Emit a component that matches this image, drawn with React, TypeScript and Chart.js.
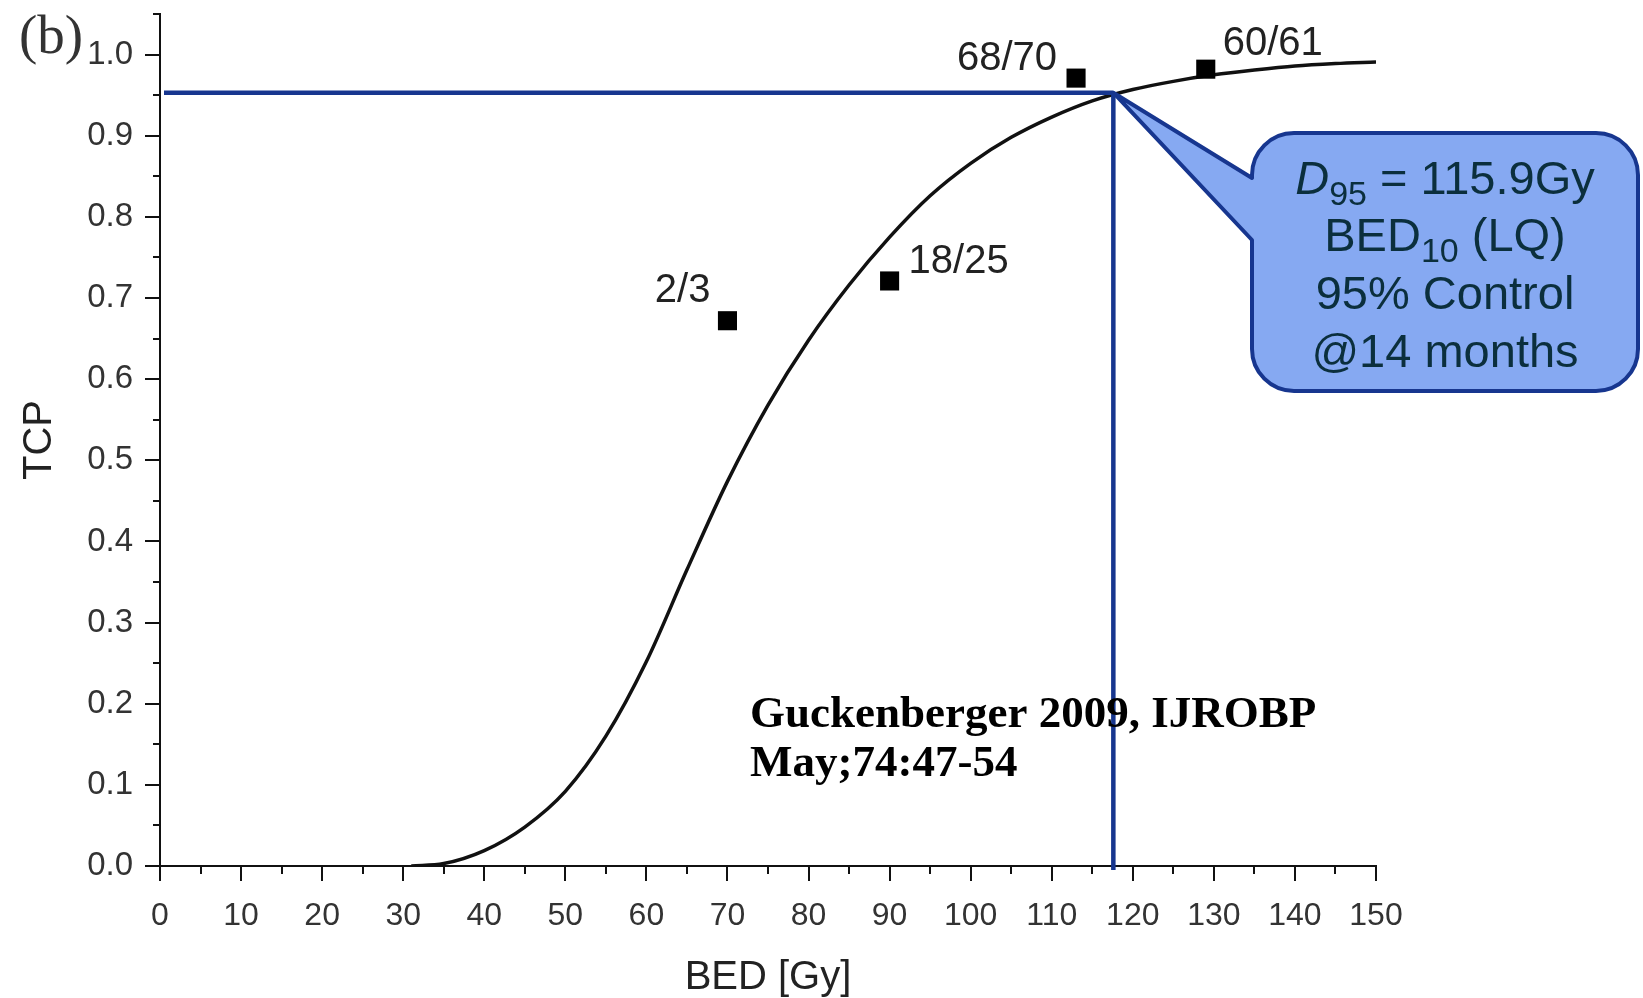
import React, { useEffect, useRef } from 'react';
import { Chart, registerables } from 'chart.js';

Chart.register(...registerables);

// ---- data ----
const curveDose = [31, 35, 40, 45, 50, 55, 60, 65, 70, 75, 80, 85, 90, 95, 100, 105, 110, 115, 120, 125, 130, 135, 140, 145, 150];
const curveTCP = [0, 0.003, 0.019, 0.048, 0.092, 0.16, 0.252, 0.365, 0.474, 0.568, 0.648, 0.716, 0.775, 0.826, 0.866, 0.898, 0.923, 0.943, 0.957, 0.967, 0.975, 0.981, 0.986, 0.989, 0.991];

const obsDose = [70, 90, 113, 129];
const obsTCP = [0.672, 0.721, 0.971, 0.982];
const obsLabels = ['2/3', '18/25', '68/70', '60/61'];

const d95Dose = 117.6;
const d95TCP = 0.953;

const xTickValues = [0, 10, 20, 30, 40, 50, 60, 70, 80, 90, 100, 110, 120, 130, 140, 150];
const xTickLabels = ['0', '10', '20', '30', '40', '50', '60', '70', '80', '90', '100', '110', '120', '130', '140', '150'];
const xMinorTicks = [5, 15, 25, 35, 45, 55, 65, 75, 85, 95, 105, 115, 125, 135, 145];
const yTickValues = [0, 0.1, 0.2, 0.3, 0.4, 0.5, 0.6, 0.7, 0.8, 0.9, 1.0];
const yTickLabels = ['0.0', '0.1', '0.2', '0.3', '0.4', '0.5', '0.6', '0.7', '0.8', '0.9', '1.0'];
const yMinorTicks = [0.05, 0.15, 0.25, 0.35, 0.45, 0.55, 0.65, 0.75, 0.85, 0.95, 1.05];

const xTitle = 'BED [Gy]';
const yTitle = 'TCP';
const panelLabel = '(b)';
const referenceLines = ['Guckenberger 2009, IJROBP', 'May;74:47-54'];
const calloutLines = [
  [{ t: 'D', italic: true }, { t: '95', sub: true }, { t: ' = 115.9Gy' }],
  [{ t: 'BED' }, { t: '10', sub: true }, { t: ' (LQ)' }],
  [{ t: '95% Control' }],
  [{ t: '@14 months' }],
];

// ---- styles / positions ----
const SANS = "'Liberation Sans', Arial, sans-serif";
const SERIF = "'Liberation Serif', 'Times New Roman', serif";
const NAVY = '#17368f';
const labelOffsets = [
  { dx: -17, dy: -19, align: 'right' },
  { dx: 19, dy: -8, align: 'left' },
  { dx: -19, dy: -8, align: 'right' },
  { dx: 17, dy: -14, align: 'left' },
];

const annotPlugin = {
  id: 'annot',
  afterDraw(chart: any) {
    const { ctx, chartArea, scales } = chart;
    const xs = scales.x;
    const ys = scales.y;
    ctx.save();

    // minor ticks
    ctx.strokeStyle = '#111';
    ctx.lineWidth = 2;
    ctx.beginPath();
    xMinorTicks.forEach((v) => {
      const px = Math.round(xs.getPixelForValue(v));
      ctx.moveTo(px, chartArea.bottom);
      ctx.lineTo(px, chartArea.bottom + 8);
    });
    yMinorTicks.forEach((v) => {
      const py = Math.round(ys.getPixelForValue(v));
      ctx.moveTo(chartArea.left - 7, py);
      ctx.lineTo(chartArea.left, py);
    });
    ctx.stroke();

    // D95 guide lines
    const tx = xs.getPixelForValue(d95Dose);
    const ty = ys.getPixelForValue(d95TCP);
    ctx.strokeStyle = NAVY;
    ctx.lineWidth = 4.5;
    ctx.beginPath();
    ctx.moveTo(chartArea.left + 4, ty);
    ctx.lineTo(tx, ty);
    ctx.moveTo(tx, ty);
    ctx.lineTo(tx, chartArea.bottom + 4);
    ctx.stroke();

    // callout
    const L = 1252, T = 133, R = 1638, B = 391, r = 42;
    const a1 = 178, a2 = 240;
    ctx.beginPath();
    ctx.moveTo(L, a1);
    ctx.lineTo(L, T + r);
    ctx.arcTo(L, T, L + r, T, r);
    ctx.lineTo(R - r, T);
    ctx.arcTo(R, T, R, T + r, r);
    ctx.lineTo(R, B - r);
    ctx.arcTo(R, B, R - r, B, r);
    ctx.lineTo(L + r, B);
    ctx.arcTo(L, B, L, B - r, r);
    ctx.lineTo(L, a2);
    ctx.lineTo(tx, ty);
    ctx.closePath();
    ctx.fillStyle = '#86a9f2';
    ctx.fill();
    ctx.lineJoin = 'round';
    ctx.strokeStyle = NAVY;
    ctx.lineWidth = 4;
    ctx.stroke();

    const baselines = [194, 251, 309, 367];
    const cx = (L + R) / 2;
    ctx.fillStyle = '#0b2f3d';
    ctx.textBaseline = 'alphabetic';
    ctx.textAlign = 'left';
    calloutLines.forEach((segs: any[], i) => {
      const fonts = segs.map((s) => (s.sub ? `34px ${SANS}` : s.italic ? `italic 47px ${SANS}` : `47px ${SANS}`));
      let total = 0;
      const widths = segs.map((s, j) => {
        ctx.font = fonts[j];
        const w = ctx.measureText(s.t).width;
        total += w;
        return w;
      });
      let x = cx - total / 2;
      segs.forEach((s, j) => {
        ctx.font = fonts[j];
        ctx.fillText(s.t, x, baselines[i] + (s.sub ? 11 : 0));
        x += widths[j];
      });
    });

    // point labels
    const meta = chart.getDatasetMeta(1);
    ctx.fillStyle = '#222';
    ctx.font = `40px ${SANS}`;
    obsLabels.forEach((lab, i) => {
      const el = meta.data[i];
      const o = labelOffsets[i];
      ctx.textAlign = o.align;
      ctx.fillText(lab, el.x + o.dx, el.y + o.dy);
    });

    // reference text
    ctx.fillStyle = '#000';
    ctx.textAlign = 'left';
    ctx.font = `bold 45px ${SERIF}`;
    ctx.fillText(referenceLines[0], 750, 727);
    ctx.fillText(referenceLines[1], 750, 776);

    // panel label
    ctx.fillStyle = '#333';
    ctx.font = `55px ${SERIF}`;
    ctx.fillText(panelLabel, 19, 53);

    ctx.restore();
  },
};

export default function App() {
  const ref = useRef<HTMLCanvasElement | null>(null);
  useEffect(() => {
    if (!ref.current) return;
    Chart.defaults.font.family = SANS;
    const chart = new Chart(ref.current, {
      type: 'scatter',
      data: {
        datasets: [
          {
            type: 'line',
            data: curveDose.map((x, i) => ({ x, y: curveTCP[i] })),
            borderColor: '#111',
            borderWidth: 3.5,
            pointRadius: 0,
            cubicInterpolationMode: 'monotone',
            fill: false,
            order: 2,
          } as any,
          {
            type: 'scatter',
            data: obsDose.map((x, i) => ({ x, y: obsTCP[i] })),
            pointStyle: 'rect',
            pointRadius: 13.5,
            backgroundColor: '#000',
            borderColor: '#000',
            borderWidth: 0,
            order: 1,
          } as any,
        ],
      },
      options: {
        animation: false,
        responsive: false,
        devicePixelRatio: 1,
        layout: { padding: { left: 0, right: 267, top: 14, bottom: 0 } },
        plugins: { legend: { display: false }, tooltip: { enabled: false } },
        scales: {
          x: {
            type: 'linear',
            min: 0,
            max: 150,
            afterBuildTicks: (s: any) => {
              s.ticks = xTickValues.map((v) => ({ value: v }));
            },
            afterFit: (s: any) => {
              s.height = 132;
              s.paddingLeft = 0;
              s.paddingRight = 0;
            },
            ticks: {
              callback: (_v: any, i: number) => xTickLabels[i],
              font: { size: 32 },
              color: '#333',
              padding: 16,
              maxRotation: 0,
              autoSkip: false,
            },
            grid: { display: true, drawOnChartArea: false, drawTicks: true, tickLength: 15, color: '#111', lineWidth: 2 },
            border: { display: true, color: '#111', width: 2 },
            title: { display: true, text: xTitle, color: '#222', font: { size: 40, lineHeight: 1.0 }, padding: { top: 0, bottom: 0 } },
          },
          y: {
            type: 'linear',
            min: 0,
            max: 1.05,
            afterBuildTicks: (s: any) => {
              s.ticks = yTickValues.map((v) => ({ value: v }));
            },
            afterFit: (s: any) => {
              s.width = 160;
              s.paddingTop = 0;
              s.paddingBottom = 0;
            },
            ticks: {
              callback: (_v: any, i: number) => yTickLabels[i],
              font: { size: 33 },
              color: '#333',
              padding: 12,
              autoSkip: false,
            },
            grid: { display: true, drawOnChartArea: false, drawTicks: true, tickLength: 15, color: '#111', lineWidth: 2 },
            border: { display: true, color: '#111', width: 2 },
            title: { display: true, text: yTitle, color: '#222', font: { size: 40, lineHeight: 1.2 }, padding: { top: 16, bottom: 0 } },
          },
        },
      } as any,
      plugins: [annotPlugin],
    });
    return () => chart.destroy();
  }, []);
  return (
    <div style={{ position: 'absolute', left: 0, top: 0, width: 1643, height: 998, background: '#fff' }}>
      <canvas ref={ref} width={1643} height={998} style={{ display: 'block', width: 1643, height: 998 }} />
    </div>
  );
}
